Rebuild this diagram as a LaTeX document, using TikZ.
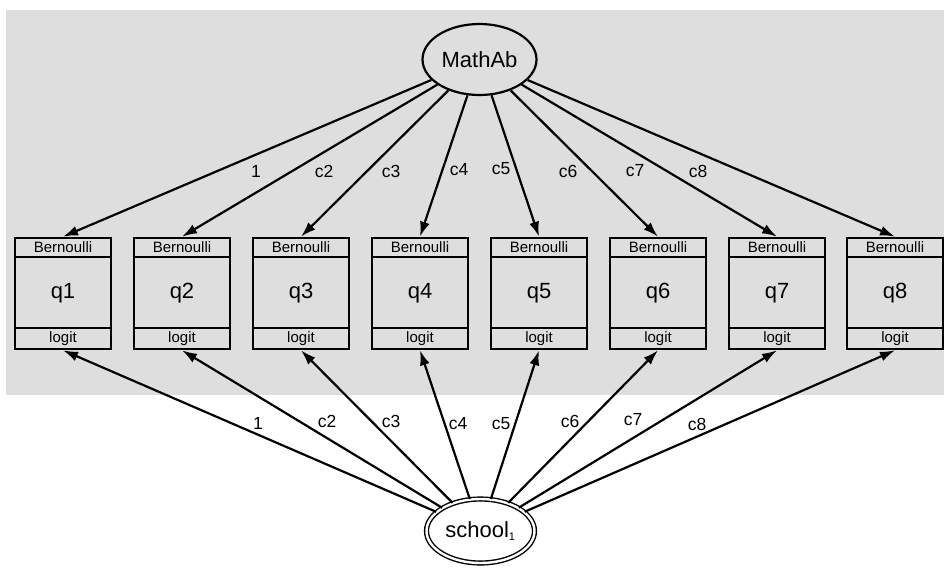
\documentclass[tikz,border=0pt]{standalone}
\usepackage{fontspec}
\setmainfont{Liberation Sans}
\usetikzlibrary{shapes.geometric,arrows.meta}
\definecolor{bggray}{RGB}{222,222,222}
\tikzset{
  latent/.style={ellipse,draw,line width=2.2pt,inner sep=0pt,minimum width=114pt,minimum height=71pt,font=\fontsize{22}{24}\selectfont},
  multilevel/.style={latent,double,line width=1.4pt,double distance=2.4pt,minimum width=108pt,minimum height=64pt},
  observed/.style={rectangle,draw,line width=2.6pt,minimum width=96pt,minimum height=111pt,inner sep=0pt,font=\fontsize{22}{24}\selectfont},
  family/.style={rectangle,draw,line width=2.6pt,minimum width=96pt,minimum height=19pt,inner sep=0pt,font=\fontsize{15}{16}\selectfont},
  loading/.style={-{Latex[length=15pt,width=10pt]},line width=2.2pt},
  coef/.style={font=\fontsize{17.5}{19}\selectfont}
}
\begin{document}
\begin{tikzpicture}[x=1pt,y=-1pt]
      \useasboundingbox (0,0) rectangle (944,568);
      \fill[bggray] (6,10) rectangle (944,395);
      \node[latent] (MathAb) at (479.5,59.5) {MathAb};
      \node[multilevel] (school) at (480.5,531) {school\textsubscript{\fontsize{11}{12}\selectfont 1}};
      \draw
        (63,293.5) node[observed] (q1){q1}
        (182,293.5) node[observed] (q2){q2}
        (301,293.5) node[observed] (q3){q3}
        (420,293.5) node[observed] (q4){q4}
        (539,293.5) node[observed] (q5){q5}
        (658,293.5) node[observed] (q6){q6}
        (777,293.5) node[observed] (q7){q7}
        (895,293.5) node[observed] (q8){q8};
      % family and link strips
      \node[family,anchor=north] (f1) at (q1.north) {Bernoulli};
      \node[family,anchor=north] (f2) at (q2.north) {Bernoulli};
      \node[family,anchor=north] (f3) at (q3.north) {Bernoulli};
      \node[family,anchor=north] (f4) at (q4.north) {Bernoulli};
      \node[family,anchor=north] (f5) at (q5.north) {Bernoulli};
      \node[family,anchor=north] (f6) at (q6.north) {Bernoulli};
      \node[family,anchor=north] (f7) at (q7.north) {Bernoulli};
      \node[family,anchor=north] (f8) at (q8.north) {Bernoulli};
      \node[family,anchor=south,minimum height=21pt] (k1) at (q1.south) {logit};
      \node[family,anchor=south,minimum height=21pt] (k2) at (q2.south) {logit};
      \node[family,anchor=south,minimum height=21pt] (k3) at (q3.south) {logit};
      \node[family,anchor=south,minimum height=21pt] (k4) at (q4.south) {logit};
      \node[family,anchor=south,minimum height=21pt] (k5) at (q5.south) {logit};
      \node[family,anchor=south,minimum height=21pt] (k6) at (q6.south) {logit};
      \node[family,anchor=south,minimum height=21pt] (k7) at (q7.south) {logit};
      \node[family,anchor=south,minimum height=21pt] (k8) at (q8.south) {logit};
      \begin{scope}[loading]
        \draw (MathAb) to (f1.north);
        \draw (MathAb) to (f2.north);
        \draw (MathAb) to (f3.north);
        \draw (MathAb) to (f4.north);
        \draw (MathAb) to (f5.north);
        \draw (MathAb) to (f6.north);
        \draw (MathAb) to (f7.north);
        \draw (MathAb) to (f8.north);
        \draw (school) to (k1.south);
        \draw (school) to (k2.south);
        \draw (school) to (k3.south);
        \draw (school) to (k4.south);
        \draw (school) to (k5.south);
        \draw (school) to (k6.south);
        \draw (school) to (k7.south);
        \draw (school) to (k8.south);
      \end{scope}
      \begin{scope}[every node/.style={coef}]
        \node (a1) at (256,171) {1};
        \node (a2) at (324,171) {c2};
        \node (a3) at (391,171) {c3};
        \node (a4) at (459,170) {c4};
        \node (a5) at (501,169) {c5};
        \node (a6) at (568,171) {c6};
        \node (a7) at (635,171) {c7};
        \node (a8) at (698,171) {c8};
        \node (b1) at (258,423) {1};
        \node (b2) at (327,421) {c2};
        \node (b3) at (391,421) {c3};
        \node (b4) at (458,424) {c4};
        \node (b5) at (501,424) {c5};
        \node (b6) at (570,421) {c6};
        \node (b7) at (633,420) {c7};
        \node (b8) at (697,424) {c8};
      \end{scope}
    \end{tikzpicture}
\end{document}
